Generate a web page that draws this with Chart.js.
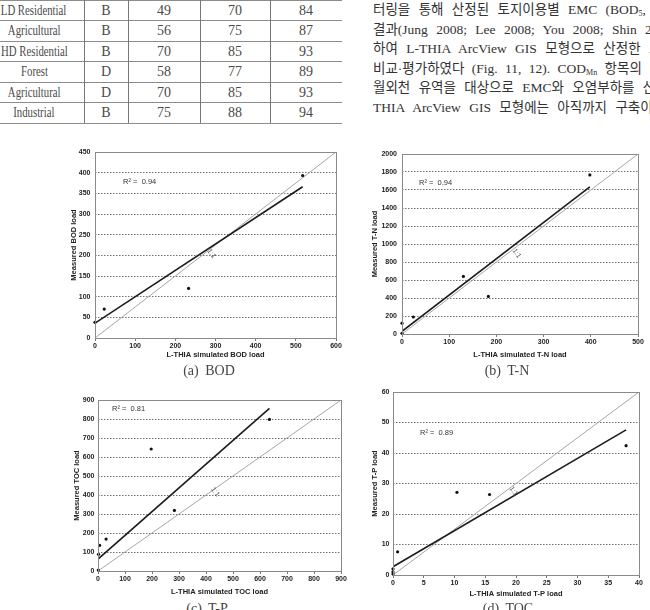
<!DOCTYPE html>
<html>
<head>
<meta charset="utf-8">
<script src="https://cdn.jsdelivr.net/npm/chart.js@4.4.0/dist/chart.umd.min.js"></script>
<style>
html,body{margin:0;padding:0;background:#fff;}
body{width:650px;height:610px;overflow:hidden;position:relative;}
canvas{position:absolute;}
.hl{position:absolute;height:0;border-top:1.5px solid #8c8c8c;}
.vl{position:absolute;width:0;border-left:1px solid #777;}
.cell{position:absolute;font-family:"Liberation Serif","DejaVu Serif",serif;font-size:14px;color:#4a4a4a;line-height:20px;text-align:center;white-space:nowrap;}
.cond{display:inline-block;transform:scaleX(0.77);transform-origin:center;}
.para{position:absolute;left:373px;font-family:"Liberation Serif","Noto Sans CJK KR",serif;font-size:13.5px;color:#333;white-space:nowrap;line-height:19px;}
.para sub{font-size:8px;vertical-align:-2px;line-height:0;}
.cap{position:absolute;font-family:"Liberation Serif","DejaVu Serif",serif;font-size:14px;color:#444;white-space:nowrap;transform:translate(-50%,-50%);word-spacing:3px;}
</style>
</head>
<body>
<div id="table"></div>
<div id="text"></div>

<canvas id="cBOD"></canvas>
<canvas id="cTN"></canvas>
<canvas id="cTOC"></canvas>
<canvas id="cTP"></canvas>

<div class="cap" style="left:209px;top:371px;">(a) BOD</div>
<div class="cap" style="left:507px;top:371px;">(b) T-N</div>
<div class="cap" style="left:207px;top:609px;">(c) T-P</div>
<div class="cap" style="left:508px;top:609px;">(d) TOC</div>

<script>
// ---------- table data ----------
const landUse   = ['LD Residential','Agricultural','HD Residential','Forest','Agricultural','Industrial'];
const soilGroup = ['B','B','B','D','D','B'];
const cnAMC1    = [49, 56, 70, 58, 70, 75];
const cnAMC2    = [70, 75, 85, 77, 85, 88];
const cnAMC3    = [84, 87, 93, 89, 93, 94];

// ---------- paragraph text ----------
const paraLines = [
  '터링을 통해 산정된 토지이용별 EMC (BOD<sub>5</sub>, TOC, T-N, T-P)를',
  '결과(Jung 2008; Lee 2008; You 2008; Shin 2008)를 이용',
  '하여 L-THIA ArcView GIS 모형으로 산정한 오염부하와',
  '비교·평가하였다 (Fig. 11, 12). COD<sub>Mn</sub> 항목의 경우',
  '월외천 유역을 대상으로 EMC와 오염부하를 산정하였으나',
  'THIA ArcView GIS 모형에는 아직까지 구축이 되어있지'
];
const paraSpacing = [5, 5, 5, 4, 5, 5];

// ---------- chart data ----------
// (a) BOD
const bodSimulated = [0, 23, 233, 517];
const bodMeasured  = [38, 70, 120, 393];
const bodFitX = [0, 517];   const bodFitY = [36, 366];
const bodRefX = [0, 600];   const bodRefY = [0, 450];
const bodXTicks = [0, 600, 100]; const bodYTicks = [0, 450, 50];

// (b) T-N
const tnSimulated = [0, 0, 24, 130, 183, 398];
const tnMeasured  = [120, 8, 189, 640, 418, 1767];
const tnFitX = [0, 398];    const tnFitY = [30, 1635];
const tnRefX = [0, 500];    const tnRefY = [0, 2000];
const tnXTicks = [0, 500, 100]; const tnYTicks = [0, 2000, 200];

// (c) TOC
const tocSimulated = [1, 2, 6, 30, 197, 283, 635];
const tocMeasured  = [5, 88, 135, 168, 642, 319, 798];
const tocFitX = [0, 635];   const tocFitY = [63, 856];
const tocRefX = [0, 900];   const tocRefY = [0, 900];
const tocXTicks = [0, 900, 100]; const tocYTicks = [0, 900, 100];

// (d) T-P
const tpSimulated = [0, 0, 0, 0.75, 10.4, 15.7, 37.9];
const tpMeasured  = [0.3, 1, 2, 7.6, 27.1, 26.4, 42.4];
const tpFitX = [0, 37.9];   const tpFitY = [2.7, 47.6];
const tpRefX = [0, 40];     const tpRefY = [0, 60];
const tpXTicks = [0, 40, 5]; const tpYTicks = [0, 60, 10];

// ---------- build table ----------
(function(){
  const t = document.getElementById('table');
  const rowH = 20.5, cols = [-16, 84, 128, 200, 270, 342];
  const centers = [34, 106, 164, 235, 306];
  for (let i = 0; i <= landUse.length; i++) {
    const d = document.createElement('div'); d.className='hl';
    d.style.left='0px'; d.style.width='342px'; d.style.top=(i*rowH - 0.5)+'px';
    t.appendChild(d);
  }
  for (let j = 1; j < cols.length-1; j++) {
    const d = document.createElement('div'); d.className='vl';
    d.style.left=cols[j]+'px'; d.style.top='0px'; d.style.height=(landUse.length*rowH)+'px';
    t.appendChild(d);
  }
  landUse.forEach((lu, i) => {
    const vals = ['<span class="cond">'+lu+'</span>', soilGroup[i], cnAMC1[i], cnAMC2[i], cnAMC3[i]];
    vals.forEach((v, j) => {
      const c = document.createElement('div'); c.className='cell';
      c.style.left=(centers[j]-50)+'px'; c.style.width='100px';
      c.style.top=(i*rowH + 0.5)+'px';
      c.innerHTML = v;
      t.appendChild(c);
    });
  });
  const tx = document.getElementById('text');
  paraLines.forEach((ln, i) => {
    const d = document.createElement('div'); d.className='para';
    d.style.top = (i*19.5)+'px';
    d.style.wordSpacing = paraSpacing[i]+'px';
    d.innerHTML = ln;
    tx.appendChild(d);
  });
})();

// ---------- charts ----------
const pts = (xs, ys) => xs.map((x, i) => ({x: x, y: ys[i]}));

const framePlugin = {
  id: 'frame',
  afterDatasetsDraw(chart) {
    const a = chart.chartArea, ctx = chart.ctx;
    ctx.save();
    ctx.strokeStyle = '#8a8a8a'; ctx.lineWidth = 1;
    ctx.strokeRect(Math.round(a.left)+0.5, Math.round(a.top)+0.5, Math.round(a.right-a.left), Math.round(a.bottom-a.top));
    ctx.restore();
  }
};
const notesPlugin = {
  id: 'notes',
  afterDatasetsDraw(chart, args, o) {
    const ctx = chart.ctx, x = chart.scales.x, y = chart.scales.y;
    ctx.save();
    ctx.font = '7.5px "Liberation Sans", Arial, sans-serif';
    ctx.fillStyle = '#333'; ctx.textBaseline = 'middle'; ctx.textAlign = 'left';
    ctx.fillText(o.r2Text, x.getPixelForValue(o.r2At[0]), y.getPixelForValue(o.r2At[1]));
    ctx.translate(x.getPixelForValue(o.oneAt[0]), y.getPixelForValue(o.oneAt[1]));
    ctx.rotate(o.oneAngle * Math.PI / 180);
    ctx.textAlign = 'center'; ctx.fillStyle = '#555';
    ctx.font = '7px "Liberation Sans", Arial, sans-serif';
    ctx.fillText('1:1', 0, 0);
    ctx.restore();
  }
};

function makeChart(id, box, s) {
  const YW = 40, PT = 12, PR = 10, XH = 28;
  const cv = document.getElementById(id);
  const w = box.r - box.l + YW + PR, h = box.b - box.t + PT + XH;
  cv.style.left = (box.l - YW) + 'px'; cv.style.top = (box.t - PT) + 'px';
  cv.style.width = w + 'px'; cv.style.height = h + 'px';
  cv.width = w; cv.height = h;
  const tickFont = {family: '"Liberation Sans", Arial, sans-serif', size: 7, weight: 'bold', lineHeight: 1.2};
  const titleFont = {family: '"Liberation Sans", Arial, sans-serif', size: 7.5, weight: 'bold', lineHeight: 1.2};
  const yMin = s.yTicks[0], yMax = s.yTicks[1];
  const plain = v => String(v);
  new Chart(cv, {
    type: 'scatter',
    data: {datasets: [
      {label: 'obs', data: pts(s.simX, s.meaY), showLine: false, backgroundColor: '#111', borderColor: '#111', pointRadius: 1.6, pointBorderWidth: 0, order: 1, clip: false},
      {label: 'fit', data: pts(s.fitX, s.fitY), showLine: true, borderColor: '#1c1c1c', borderWidth: 1.6, pointRadius: 0, order: 2},
      {label: '1:1', data: pts(s.refX, s.refY), showLine: true, borderColor: '#a6a6a6', borderWidth: 1, pointRadius: 0, order: 3}
    ]},
    options: {
      responsive: false, animation: false, devicePixelRatio: 1,
      layout: {padding: {left: 0, top: PT, right: PR, bottom: 0}},
      plugins: {legend: {display: false}, tooltip: {enabled: false}, notes: s.notes},
      scales: {
        x: {
          type: 'linear', min: s.xTicks[0], max: s.xTicks[1],
          ticks: {stepSize: s.xTicks[2], font: tickFont, color: '#222', padding: 1, maxRotation: 0, autoSkip: false, callback: plain},
          grid: {drawOnChartArea: false, drawTicks: true, tickLength: 3, color: '#777'},
          border: {display: false},
          title: {display: true, text: s.xTitle, font: titleFont, color: '#222', padding: {top: 0, bottom: s.xTitlePad}},
          afterFit: sc => { sc.height = XH; }
        },
        y: {
          type: 'linear', min: yMin, max: yMax,
          ticks: {stepSize: s.yTicks[2], font: tickFont, color: '#222', padding: s.yTickPad, autoSkip: false, callback: plain},
          grid: {drawTicks: false, lineWidth: 1,
                 color: c => (c.tick && (c.tick.value === yMin || c.tick.value === yMax)) ? 'rgba(0,0,0,0)' : '#707070'},
          border: {display: false, dash: [1.5, 1.5]},
          title: {display: true, text: s.yTitle, font: titleFont, color: '#222', padding: {top: s.yTitlePad, bottom: 0}},
          afterFit: sc => { sc.width = YW; }
        }
      }
    },
    plugins: [framePlugin, notesPlugin]
  });
}

makeChart('cBOD', {l: 95, r: 336, t: 152, b: 338}, {
  simX: bodSimulated, meaY: bodMeasured, fitX: bodFitX, fitY: bodFitY, refX: bodRefX, refY: bodRefY,
  xTicks: bodXTicks, yTicks: bodYTicks,
  xTitle: 'L-THIA simulated BOD load', yTitle: 'Measured BOD load',
  xTitlePad: 7, yTitlePad: 14.5, yTickPad: 4.5,
  notes: {r2Text: 'R² =  0.94', r2At: [70, 378], oneAt: [290, 204], oneAngle: 55}
});
makeChart('cTN', {l: 402, r: 638, t: 154, b: 334}, {
  simX: tnSimulated, meaY: tnMeasured, fitX: tnFitX, fitY: tnFitY, refX: tnRefX, refY: tnRefY,
  xTicks: tnXTicks, yTicks: tnYTicks,
  xTitle: 'L-THIA simulated T-N load', yTitle: 'Measured T-N load',
  xTitlePad: 3, yTitlePad: 8, yTickPad: 5,
  notes: {r2Text: 'R² =  0.94', r2At: [36, 1674], oneAt: [243, 897], oneAngle: 55}
});
makeChart('cTOC', {l: 98, r: 341, t: 400, b: 571}, {
  simX: tocSimulated, meaY: tocMeasured, fitX: tocFitX, fitY: tocFitY, refX: tocRefX, refY: tocRefY,
  xTicks: tocXTicks, yTicks: tocYTicks,
  xTitle: 'L-THIA simulated TOC load', yTitle: 'Measured TOC load',
  xTitlePad: 3, yTitlePad: 14, yTickPad: 3.5,
  notes: {r2Text: 'R² =  0.81', r2At: [52, 853], oneAt: [434, 417], oneAngle: 55}
});
makeChart('cTP', {l: 393, r: 639, t: 392, b: 575}, {
  simX: tpSimulated, meaY: tpMeasured, fitX: tpFitX, fitY: tpFitY, refX: tpRefX, refY: tpRefY,
  xTicks: tpXTicks, yTicks: tpYTicks,
  xTitle: 'L-THIA simulated T-P load', yTitle: 'Measured T-P load',
  xTitlePad: 5, yTitlePad: 17.5, yTickPad: 3.5,
  notes: {r2Text: 'R² =  0.89', r2At: [4.4, 46.7], oneAt: [19.6, 27.5], oneAngle: 55}
});
</script>
</body>
</html>
